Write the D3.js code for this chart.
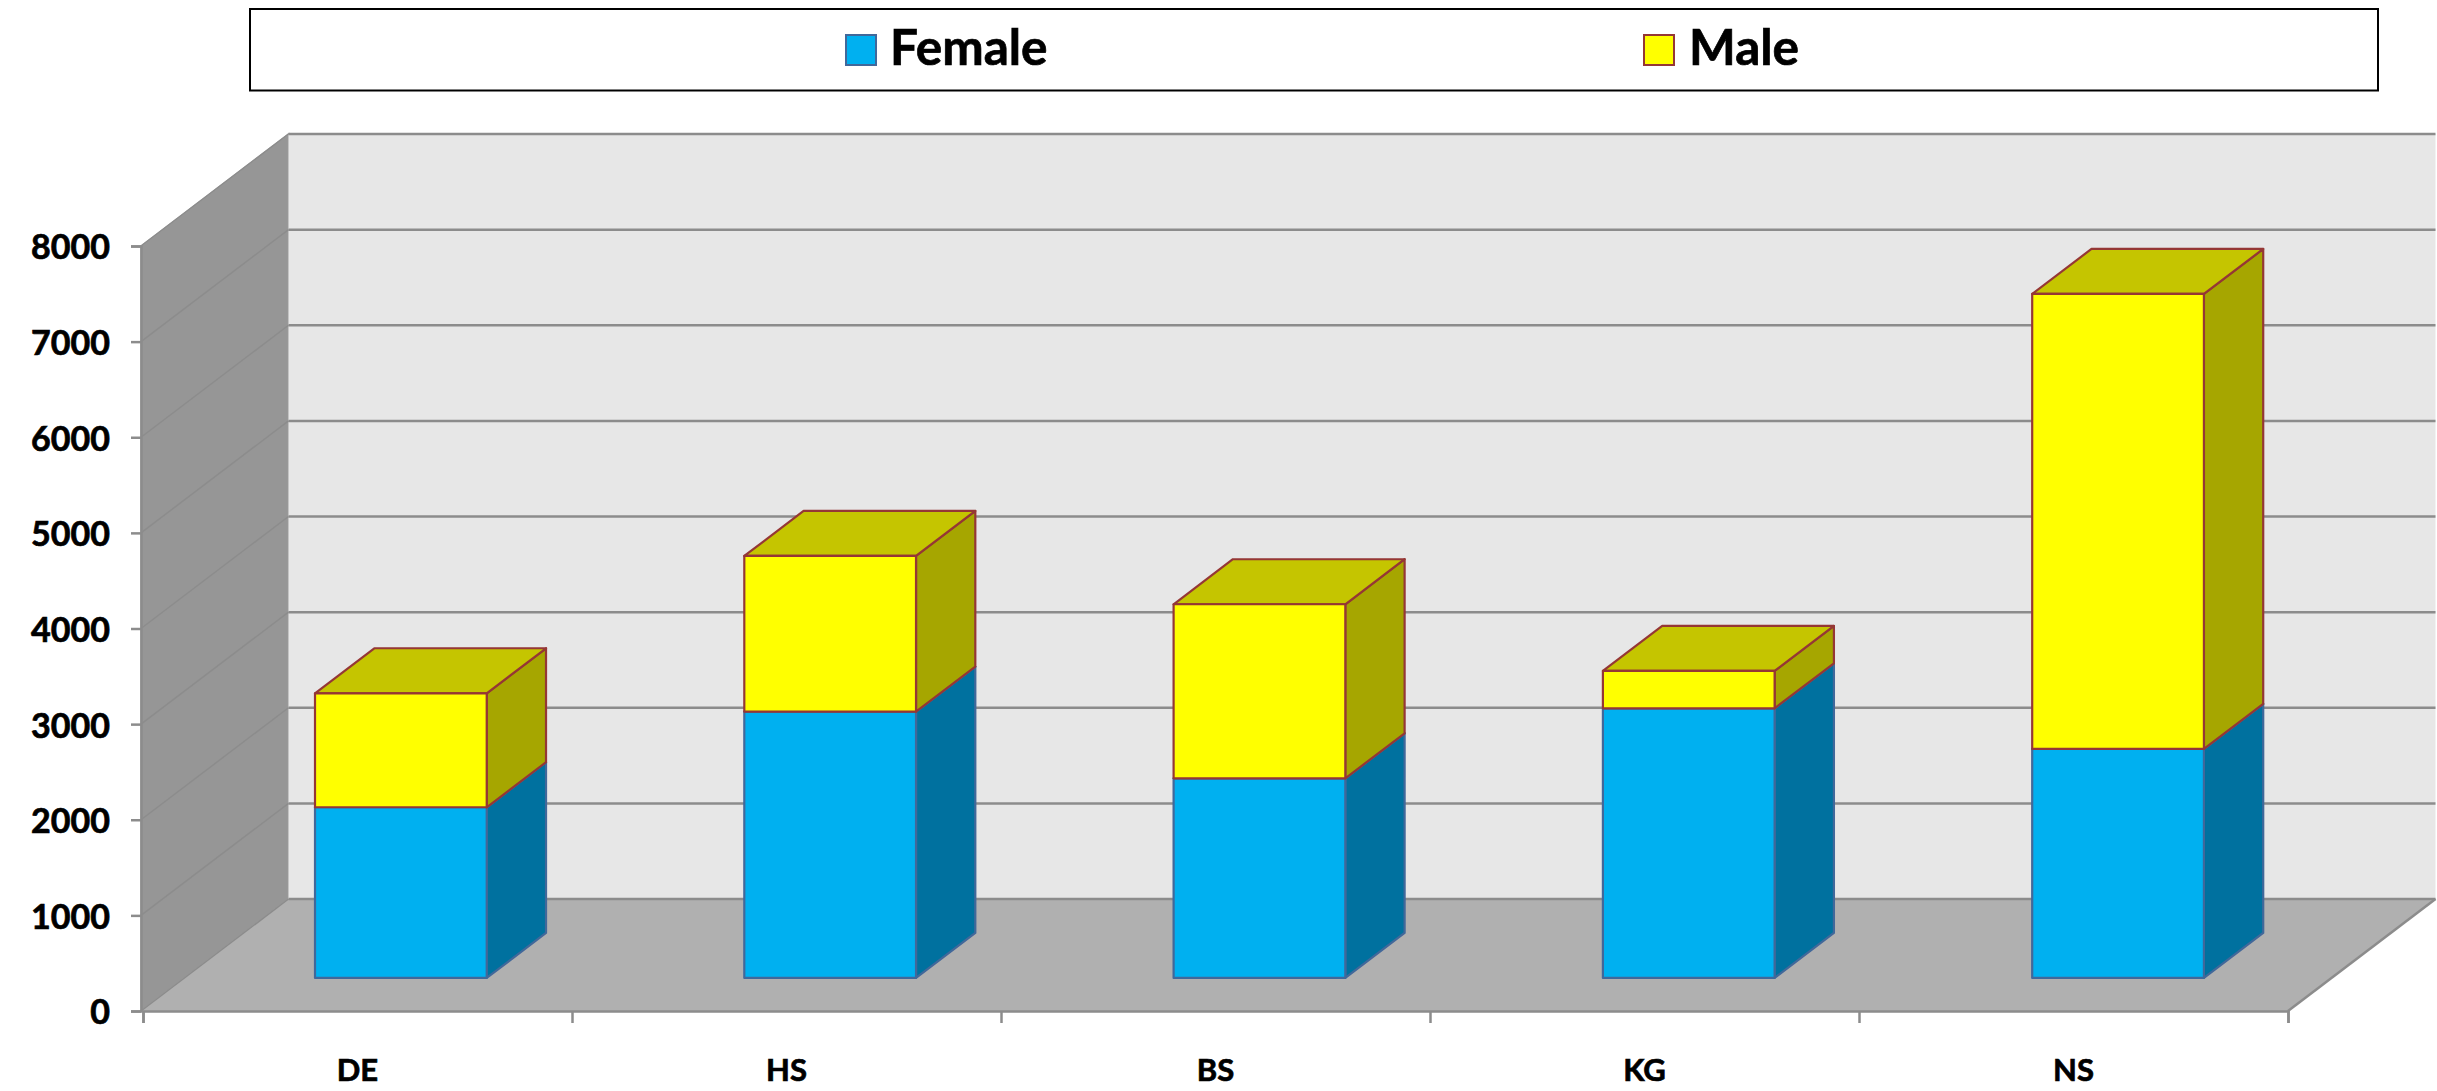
<!DOCTYPE html>
<html><head><meta charset="utf-8">
<script src="https://cdn.jsdelivr.net/npm/d3@7/dist/d3.min.js"></script>
<style>html,body{margin:0;padding:0;background:#fff;overflow:hidden}svg{display:block}
text{font-family:"Lato",sans-serif;font-weight:700;fill:#000;stroke:#000;stroke-width:0.7px}</style></head>
<body><svg id="c" width="2437" height="1091"></svg>
<script>
const categories = ["DE","HS","BS","KG","NS"];
const female = [1785,2785,2088,2820,2395];
const male = [1192,1628,1820,391,4758];
const seriesNames = ["Female","Male"];
const yTicks = [0,1000,2000,3000,4000,5000,6000,7000,8000];

const svg = d3.select("#c");
const x = d3.scaleBand().domain(categories).range([143,2288]).paddingInner(0).paddingOuter(0);
const xEdge = d3.scaleLinear().domain([0,5]).range([143,2288]);
const y = d3.scaleLinear().domain([0,8000]).range([1011,246]);
const zx = d3.scaleLinear().domain([0,1]).range([0,147.5]);
const zy = d3.scaleLinear().domain([0,1]).range([0,-112]);
const P = (px,v,z)=>[px+zx(z), y(v)+zy(z)];
const poly = pts=>"M"+pts.map(p=>p.join(",")).join("L")+"Z";
const grid="#8c8c8c";
const left=xEdge(0)-2, right=xEdge(5);

// walls
svg.append("path").attr("d",poly([P(left,0,0),P(left,8000,0),P(left,8000,1),P(left,0,1)])).attr("fill","#969696").attr("stroke","#a0a0a0").attr("stroke-width",1.5);
svg.append("path").attr("d",poly([P(left,0,1),P(left,8000,1),P(right,8000,1),P(right,0,1)])).attr("fill","#e7e7e7");
svg.append("path").attr("d",poly([P(left,0,0),P(right,0,0),P(right,0,1),P(left,0,1)])).attr("fill","#b0b0b0");

// gridlines
const gl=svg.append("g").attr("fill","none").attr("stroke",grid);
yTicks.forEach(t=>{
  if(t>0) gl.append("path").attr("d",d3.line()([P(left,t,0),P(left,t,1)])).attr("stroke-width",1.5);
  gl.append("path").attr("d",d3.line()([P(left,t,1),P(right,t,1)])).attr("stroke-width",2.5);
});
gl.append("path").attr("d",d3.line()([P(left,0,0),P(left,0,1)])).attr("stroke-width",1.5);
gl.append("path").attr("d",d3.line()([P(right,0,0),P(right,0,1)])).attr("stroke-width",2.5);

// bars
const stack=d3.stack().keys(seriesNames)(categories.map((c,i)=>({c,Female:female[i],Male:male[i]})));
const inner=d3.scaleBand().domain(categories).range([142.7,2289.2]).paddingInner(0.6).paddingOuter(0.3);
const styles=[{f:"#00b0f0",s:"#00719f",t:"#0090c4",st:"#41689a"},{f:"#ffff00",s:"#a6a600",t:"#c5c500",st:"#953735"}];
const z0=0.295,z1=0.697;
stack.forEach((ser,si)=>{
  const g=svg.append("g"), st=styles[si];
  ser.forEach(d=>{
    const a=inner(d.data.c), b=a+inner.bandwidth();
    const f=(p,fill)=>g.append("path").attr("d",poly(p)).attr("fill",fill).attr("stroke",st.st).attr("stroke-width",2.2).attr("stroke-linejoin","round");
    f([P(b,d[0],z0),P(b,d[1],z0),P(b,d[1],z1),P(b,d[0],z1)],st.s);
    f([P(a,d[1],z0),P(b,d[1],z0),P(b,d[1],z1),P(a,d[1],z1)],st.t);
    f([P(a,d[0],z0),P(b,d[0],z0),P(b,d[1],z0),P(a,d[1],z0)],st.f);
  });
});

// axes
const yAxis=svg.append("g").attr("transform",`translate(${left},0)`)
  .call(d3.axisLeft(y).tickValues(yTicks).tickSize(10).tickPadding(21).tickFormat(d3.format("d")));
const xTicks=svg.append("g").attr("transform",`translate(0,${y(0)})`)
  .call(d3.axisBottom(xEdge).tickValues(d3.range(0,6)).tickSize(12).tickFormat(""));
const xLabels=svg.append("g").attr("transform",`translate(0,${y(0)})`)
  .call(d3.axisBottom(x).tickSize(0).tickPadding(48));
[yAxis,xTicks,xLabels].forEach(a=>{
  a.selectAll(".domain").attr("stroke",grid).attr("stroke-width",2.5);
  a.selectAll("line").attr("stroke",grid).attr("stroke-width",2.5);
});
xLabels.select(".domain").remove();
yAxis.selectAll("text").style("font-size","34px").attr("dy","0.38em");
xLabels.selectAll("text").style("font-size","31px");

// legend
const lg=svg.append("g");
lg.append("rect").attr("x",250).attr("y",9).attr("width",2128).attr("height",81.5).attr("fill","#fff").attr("stroke","#000").attr("stroke-width",2);
const legendX=d3.scaleOrdinal().domain(seriesNames).range([846,1644]);
seriesNames.forEach((n,i)=>{
  const lx=legendX(n);
  lg.append("rect").attr("x",lx).attr("y",35).attr("width",30).attr("height",30).attr("fill",styles[i].f).attr("stroke",styles[i].st).attr("stroke-width",2);
  lg.append("text").attr("x",lx+44+i).attr("y",65).style("font-size","49.5px").text(n);
});
</script></body></html>
